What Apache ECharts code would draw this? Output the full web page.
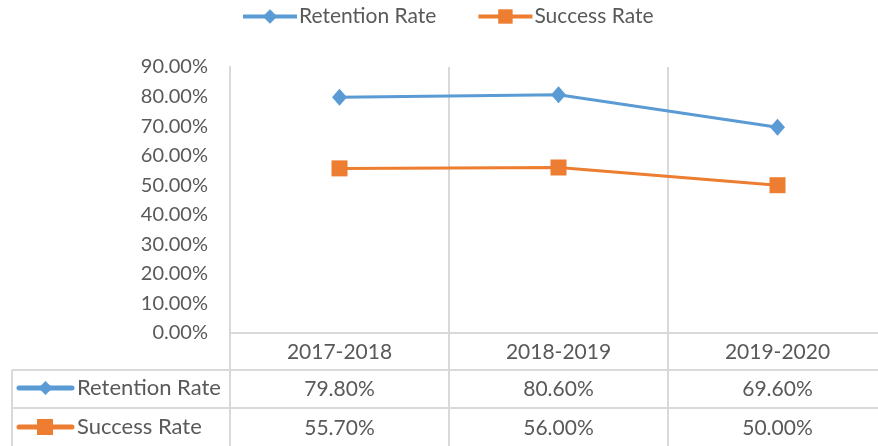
<!DOCTYPE html>
<html>
<head>
<meta charset="utf-8">
<script src="https://cdn.jsdelivr.net/npm/echarts@6/dist/echarts.min.js"></script>
<style>
  html, body { margin: 0; padding: 0; background: #fff; overflow: hidden; }
  #chart { width: 887px; height: 446px; }
</style>
</head>
<body>
<div id="chart"></div>
<script>
const years = ['2017-2018', '2018-2019', '2019-2020']
const retentionRate = [79.8, 80.6, 69.6]
const successRate = [55.7, 56.0, 50.0]
const yTicks = { min: 0, max: 90, step: 10 }

const BLUE = '#5B9BD5'
const ORANGE = '#ED7D31'
const TEXT = '#595959'
const GRID = '#d9d9d9'
const FONT = 'Lato'

const pct = v => v.toFixed(2) + '%'

// the plot runs a little past the right edge of the window, like the original
const chart = echarts.init(document.getElementById('chart'))

// table row: extra category axis below the plot, labels are the values
const rowAxis = (data, offset) => ({
  type: 'category',
  data: data.map(pct),
  position: 'bottom',
  offset: offset,
  axisLine: { show: false },
  axisTick: { show: false },
  splitLine: { show: false },
  axisLabel: { margin: 9, color: TEXT, fontSize: 21, fontFamily: FONT }
})

const gline = (x1, y1, x2, y2) => ({
  type: 'line',
  shape: { x1, y1, x2, y2 },
  style: { stroke: GRID, lineWidth: 2 },
  silent: true
})

const legendKey = (y, color, symbol, label) => ({
  type: 'group',
  children: [
    { type: 'line', shape: { x1: 19, y1: y, x2: 72, y2: y }, style: { stroke: color, lineWidth: 5, lineCap: 'round' } },
    symbol === 'diamond'
      ? { type: 'polygon', shape: { points: [[45.5, y - 7], [52.5, y], [45.5, y + 7], [38.5, y]] }, style: { fill: color } }
      : { type: 'rect', shape: { x: 37, y: y - 8, width: 16, height: 16 }, style: { fill: color } },
    { type: 'text', style: { x: 77, y: y, text: label, fill: TEXT, fontSize: 22, fontFamily: FONT, verticalAlign: 'middle' } }
  ]
})

chart.setOption({
  animation: false,
  textStyle: { fontFamily: FONT },
  legend: {
    top: 1,
    left: 236,
    itemWidth: 54,
    itemHeight: 18,
    itemGap: 40,
    lineStyle: { width: 4 },
    textStyle: { color: TEXT, fontSize: 21, fontFamily: FONT, padding: [0, 0, 0, -3] }
  },
  grid: { left: 230, right: 0, top: 67, height: 266 },
  xAxis: [
    {
      type: 'category',
      data: years,
      boundaryGap: true,
      axisLine: { lineStyle: { color: GRID, width: 2 } },
      axisTick: { show: false },
      splitLine: { show: true, lineStyle: { color: GRID, width: 2 } },
      axisLabel: { margin: 9, color: TEXT, fontSize: 21, fontFamily: FONT }
    },
    rowAxis(retentionRate, 37),
    rowAxis(successRate, 76)
  ],
  yAxis: {
    type: 'value',
    min: yTicks.min,
    max: yTicks.max,
    interval: yTicks.step,
    axisLine: { show: true, lineStyle: { color: GRID, width: 2 } },
    axisTick: { show: false },
    splitLine: { show: false },
    axisLabel: { margin: 22, color: TEXT, fontSize: 20, fontFamily: FONT, formatter: v => pct(v) }
  },
  series: [
    {
      name: 'Retention Rate',
      type: 'line',
      data: retentionRate,
      symbol: 'diamond',
      symbolSize: [15, 17],
      itemStyle: { color: BLUE },
      lineStyle: { color: BLUE, width: 3 }
    },
    {
      name: 'Success Rate',
      type: 'line',
      data: successRate,
      symbol: 'rect',
      symbolSize: 16,
      itemStyle: { color: ORANGE },
      lineStyle: { color: ORANGE, width: 3 }
    }
  ],
  graphic: [
    gline(230, 333, 230, 446),
    gline(449, 333, 449, 446),
    gline(668, 333, 668, 446),
    gline(12, 370, 887, 370),
    gline(12, 408, 887, 408),
    gline(12, 370, 12, 446),
    legendKey(388, BLUE, 'diamond', 'Retention Rate'),
    legendKey(427, ORANGE, 'rect', 'Success Rate')
  ]
})
</script>
</body>
</html>
